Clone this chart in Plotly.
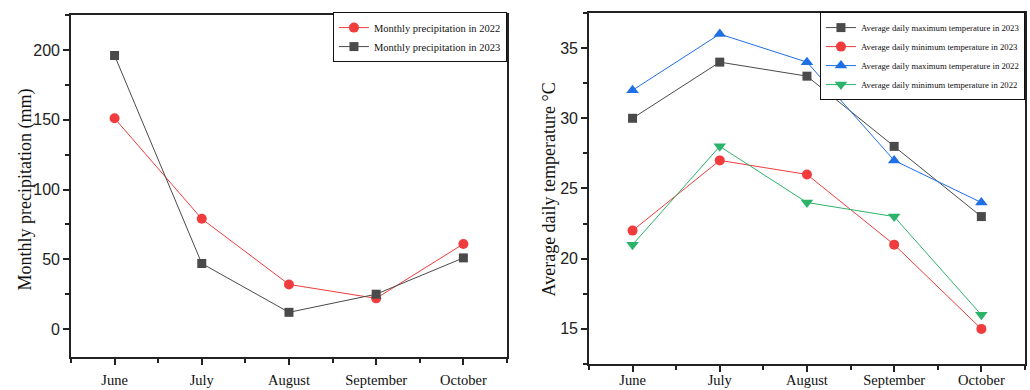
import plotly.graph_objects as go

months = ["June", "July", "August", "September", "October"]
precip_2022 = [151, 79, 32, 22, 61]
precip_2023 = [196, 47, 12, 25, 51]

tmax_2023 = [30, 34, 33, 28, 23]
tmin_2023 = [22, 27, 26, 21, 15]
tmax_2022 = [32, 36, 34, 27, 24]
tmin_2022 = [21, 28, 24, 23, 16]

xi = list(range(len(months)))

RED = "#f03c3c"
GRAY = "#4a4a4a"
BLUE = "#1f6fe6"
GREEN = "#2bb36a"

fig = go.Figure()

def add(y, name, color, symbol, size, xa, ya, legend):
    fig.add_trace(go.Scatter(
        x=xi, y=y, name=name, mode="lines+markers",
        line=dict(color=color, width=1),
        marker=dict(color=color, symbol=symbol, size=size),
        xaxis=xa, yaxis=ya, legend=legend,
    ))

add(precip_2022, "Monthly precipitation in 2022", RED, "circle", 10, "x", "y", "legend")
add(precip_2023, "Monthly precipitation in 2023", GRAY, "square", 9, "x", "y", "legend")

add(tmax_2023, "Average daily maximum temperature in 2023", GRAY, "square", 9, "x2", "y2", "legend2")
add(tmin_2023, "Average daily minimum temperature in 2023", RED, "circle", 10, "x2", "y2", "legend2")
add(tmax_2022, "Average daily maximum temperature in 2022", BLUE, "triangle-up", 11, "x2", "y2", "legend2")
add(tmin_2022, "Average daily minimum temperature in 2022", GREEN, "triangle-down", 11, "x2", "y2", "legend2")

serif = "Liberation Serif, Times New Roman, serif"
sans = "Liberation Sans, Arial, sans-serif"

def xax(domain, anchor, standoff):
    return dict(
        domain=domain, anchor=anchor, automargin=False,
        range=[-0.5, 4.5], tickmode="array", tickvals=xi, ticktext=months,
        ticks="outside", ticklen=6, tickwidth=1.5, tickcolor="#222",
        showline=True, linecolor="#222", linewidth=1.5, mirror=True,
        showgrid=False, zeroline=False, ticklabelstandoff=standoff,
        tickfont=dict(family=serif, size=14.5, color="#111"),
        minor=dict(tickmode="linear", tick0=-0.5, dtick=1, ticks="outside", ticklen=4, tickwidth=1.5, tickcolor="#222"),
    )

ycommon = dict(
    automargin=False,
    ticks="outside", ticklen=6, tickwidth=1.5, tickcolor="#222",
    showline=True, linecolor="#222", linewidth=1.5, mirror=True,
    showgrid=False, zeroline=False,
    tickfont=dict(family=sans, size=16, color="#222"),
)

fig.update_layout(
    width=1030, height=390,
    margin=dict(l=0, r=0, t=0, b=0, autoexpand=False),
    paper_bgcolor="white", plot_bgcolor="white",
    showlegend=True,
    xaxis=xax([0.0689, 0.4922], "y", 3),
    yaxis=dict(domain=[0.0846, 0.9615], anchor="x", range=[-20, 225],
               tickmode="linear", tick0=0, dtick=50,
               minor=dict(tickmode="linear", tick0=25, dtick=50, ticks="outside", ticklen=4, tickwidth=1.5, tickcolor="#222"),
               **ycommon),
    xaxis2=xax([0.5718, 0.9951], "y2", -4),
    yaxis2=dict(domain=[0.0667, 0.9667], anchor="x2", range=[12.5, 37.5],
                tickmode="linear", tick0=15, dtick=5,
                minor=dict(tickmode="linear", tick0=12.5, dtick=5, ticks="outside", ticklen=4, tickwidth=1.5, tickcolor="#222"),
                **ycommon),
    annotations=[
        dict(text="Monthly precipitation (mm)", xref="paper", yref="paper",
             x=24.5 / 1030, y=1 - 190 / 390, xanchor="center", yanchor="middle",
             textangle=-90, showarrow=False, font=dict(family=serif, size=18, color="#111")),
        dict(text="Average daily temperature °C", xref="paper", yref="paper",
             x=548 / 1030, y=1 - 189.5 / 390, xanchor="center", yanchor="middle",
             textangle=-90, showarrow=False, font=dict(family=serif, size=18, color="#111")),
    ],
    legend=dict(x=0.4922, xanchor="right", y=0.969, yanchor="top",
                bgcolor="white", bordercolor="#111", borderwidth=1,
                font=dict(family=serif, size=10.5, color="#111"),
                itemwidth=30, tracegroupgap=0),
    legend2=dict(x=0.9951, xanchor="right", y=0.969, yanchor="top",
                 bgcolor="white", bordercolor="#111", borderwidth=1,
                 font=dict(family=serif, size=8.7, color="#111"),
                 itemwidth=30, tracegroupgap=0),
)

fig.write_html("out.html")
